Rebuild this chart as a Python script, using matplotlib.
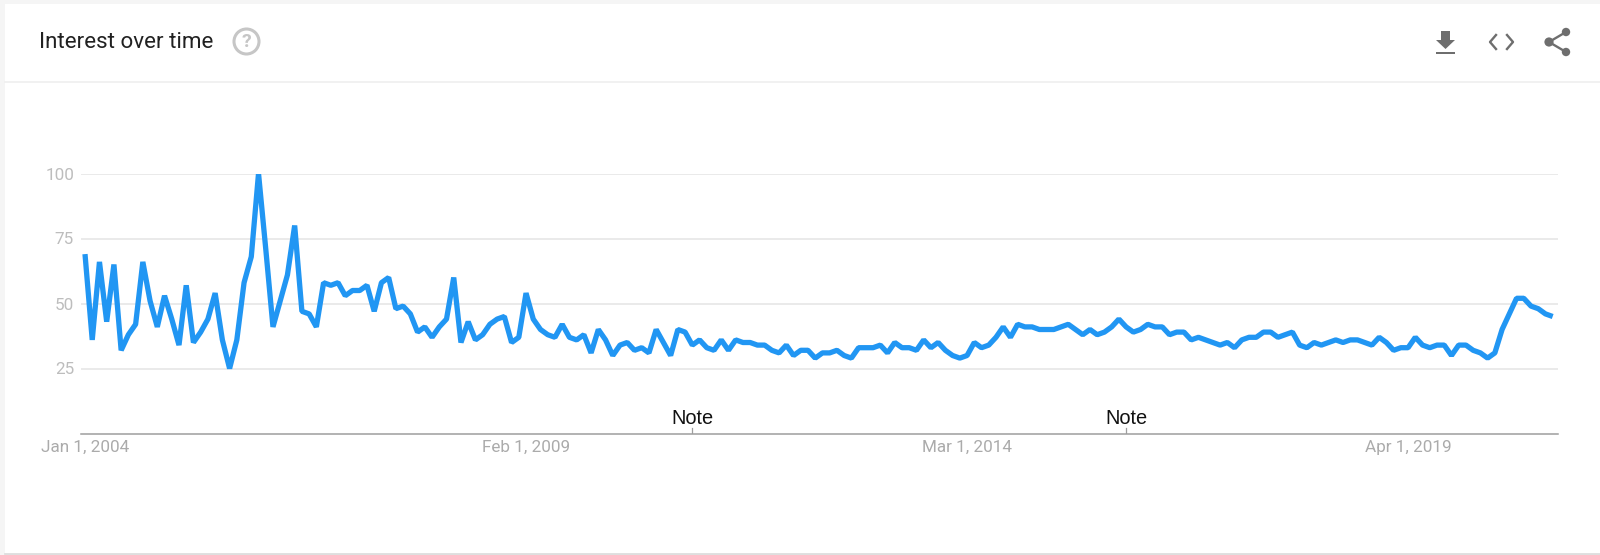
import matplotlib
matplotlib.use('Agg')
import matplotlib.pyplot as plt
from matplotlib.patches import Circle, Polygon, Rectangle

W, H = 1600, 555

# monthly interest values, Jan 2004 onwards
interest = [
    69, 36, 66, 43, 65, 32, 38, 42, 66, 51, 41, 53,
    44, 34, 57, 35, 39, 44, 54, 36, 25, 36, 58, 68,
    100, 71, 41, 51, 61, 80, 47, 46, 41, 58, 57, 58,
    53, 55, 55, 57, 47, 58, 60, 48, 49, 46, 39, 41,
    37, 41, 44, 60, 35, 43, 36, 38, 42, 44, 45, 35,
    37, 54, 44, 40, 38, 37, 42, 37, 36, 38, 31, 40,
    36, 30, 34, 35, 32, 33, 31, 40, 35, 30, 40, 39,
    34, 36, 33, 32, 36, 32, 36, 35, 35, 34, 34, 32,
    31, 34, 30, 32, 32, 29, 31, 31, 32, 30, 29, 33,
    33, 33, 34, 31, 35, 33, 33, 32, 36, 33, 35, 32,
    30, 29, 30, 35, 33, 34, 37, 41, 37, 42, 41, 41,
    40, 40, 40, 41, 42, 40, 38, 40, 38, 39, 41, 44,
    41, 39, 40, 42, 41, 41, 38, 39, 39, 36, 37, 36,
    35, 34, 35, 33, 36, 37, 37, 39, 39, 37, 38, 39,
    34, 33, 35, 34, 35, 36, 35, 36, 36, 35, 34, 37,
    35, 32, 33, 33, 37, 34, 33, 34, 34, 30, 34, 34,
    32, 31, 29, 31, 40, 46, 52, 52, 49, 48, 46, 45,
]
y_ticks = [25, 50, 75, 100]
date_ticks = [0, 61, 122, 183]
date_labels = ['Jan 1, 2004', 'Feb 1, 2009', 'Mar 1, 2014', 'Apr 1, 2019']
note_months = [84, 144]

LINE = '#2196F3'
GRID = '#E4E4E4'
LABEL = '#ABABAB'
ICON = '#6E6E6E'

plt.rcParams['font.family'] = ['Roboto', 'DejaVu Sans']

fig = plt.figure(figsize=(W / 100, H / 100), dpi=100, facecolor='#F5F5F5')

# overlay in pixel coordinates for the card and the header icons
ui = fig.add_axes([0, 0, 1, 1])
ui.set_xlim(0, W)
ui.set_ylim(H, 0)
ui.axis('off')
ui.add_patch(Rectangle((5, 4), W - 5, H - 5.5, fc='white', ec='none'))
ui.plot([5, W], [81.5, 81.5], color='#EEEEEE', lw=1.1)
ui.plot([5, W], [554, 554], color='#DADADA', lw=1.2)

ui.text(39, 43, 'Interest over time', fontsize=16.1, color='#212121', va='center', ha='left')
ui.add_patch(Circle((246.5, 41.5), 12.5, fc='none', ec='#C6C6C6', lw=2.2))
ui.text(246.5, 42, '?', fontsize=14, color='#C6C6C6', ha='center', va='center', fontweight='bold')

# download icon
ui.add_patch(Polygon([(1441, 31), (1450, 31), (1450, 40), (1455, 40), (1445.5, 49), (1436, 40), (1441, 40)],
                     fc=ICON, ec='none'))
ui.add_patch(Rectangle((1436, 52), 19, 2.4, fc=ICON, ec='none'))
# embed icon
ui.plot([1496, 1490, 1496], [35, 42, 49], color=ICON, lw=1.7)
ui.plot([1507, 1513, 1507], [35, 42, 49], color=ICON, lw=1.7)
# share icon
ui.plot([1566, 1549, 1566], [32, 42, 52], color=ICON, lw=1.7)
for cx, cy, r in [(1566, 32, 4.2), (1549, 42, 4.6), (1566, 52, 4.2)]:
    ui.add_patch(Circle((cx, cy), r, fc=ICON, ec='none'))

# chart area, placed by pixel edges
left, right, top, bottom = 81, 1558, 173.5, 433.5
ax = fig.add_axes([left / W, 1 - bottom / H, (right - left) / W, (bottom - top) / H])
ax.patch.set_alpha(0)
ax.set_xlim((left - 85) / 7.23, (right - 85) / 7.23)
ax.set_ylim(0, 100)

ax.plot(range(len(interest)), interest, color=LINE, lw=3.8, solid_joinstyle='bevel',
        solid_capstyle='butt', zorder=3)

for s in ['top', 'left', 'right']:
    ax.spines[s].set_visible(False)
ax.spines['bottom'].set_color('#9E9E9E')
ax.spines['bottom'].set_linewidth(1.1)
ax.grid(axis='y', color=GRID, lw=1.1)
ax.set_axisbelow(True)

ax.set_yticks(y_ticks)
ax.set_xticks(date_ticks)
ax.set_xticklabels(date_labels)
ax.tick_params(axis='y', length=0, pad=5, labelsize=12.3, labelcolor='#BDBDBD')
ax.tick_params(axis='x', length=0, pad=4.5, labelsize=12.3, labelcolor=LABEL)

for m in note_months:
    ax.plot([m, m], [0, 2], color='#9E9E9E', lw=0.9, zorder=2)
    ax.text(m, 2.0, 'Note', fontsize=14.4, family=['Liberation Sans', 'DejaVu Sans'],
            color='#111111', ha='center', va='bottom')

fig.savefig('out.png', dpi=100, facecolor=fig.get_facecolor())
